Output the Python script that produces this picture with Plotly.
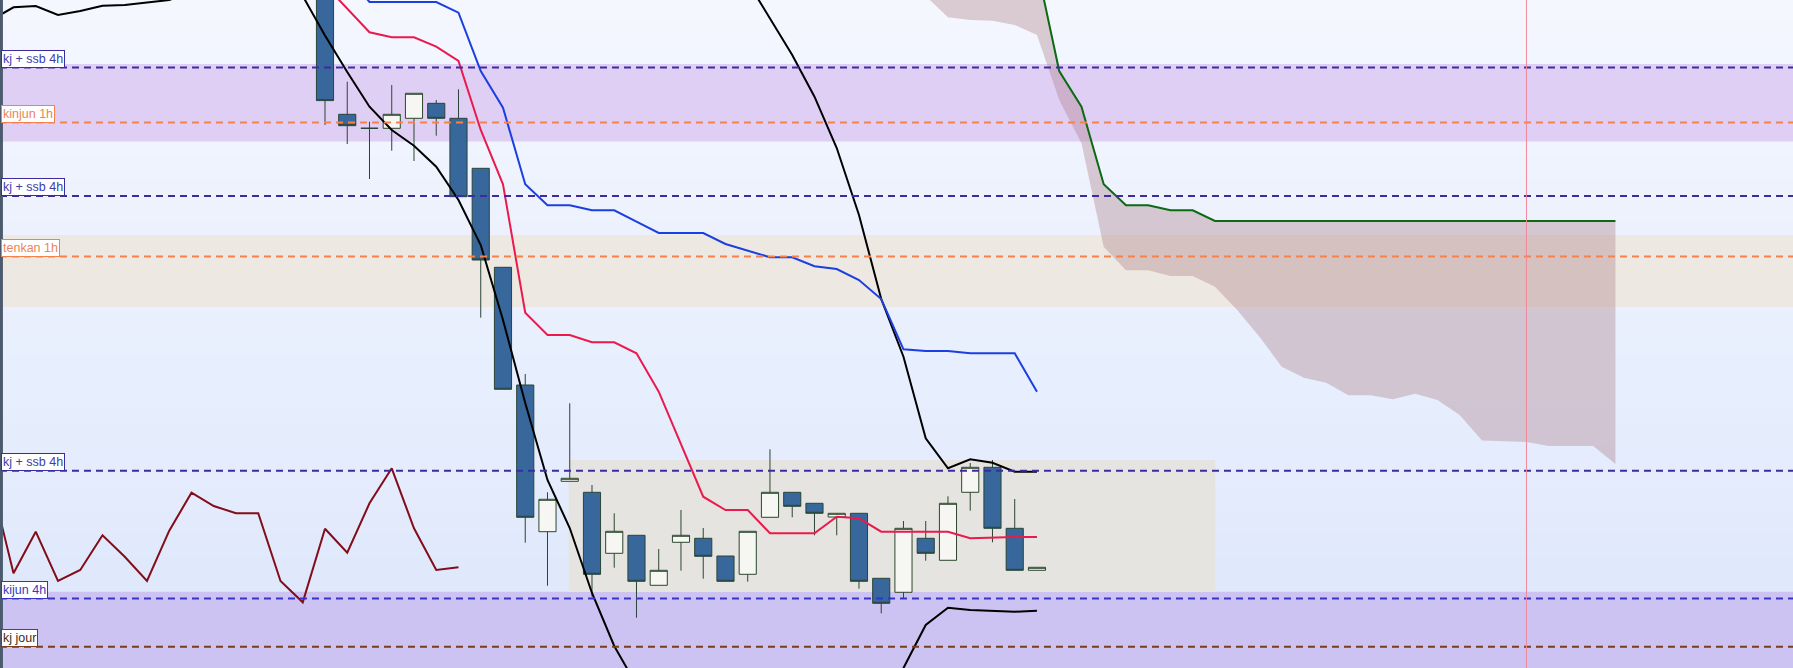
import numpy as np
import plotly.graph_objects as go

# ---------------------------------------------------------------------------
# candles (bar index 0..32), prices in chart units
bars = list(range(0, 33))
opens = [700, 553.7, 539.7, 539.7, 549.7, 564.7, 549.7, 499.7, 400.7, 283,
         136.3, 186.7, 175.7, 114.7, 132.7, 82.7, 125.7, 129.7, 112, 93.7,
         150.7, 175.7, 164.7, 151, 154.7, 89.7, 75.7, 129.7, 107.7, 175.7,
         200.7, 139.7, 97.7]
highs = [712, 586.3, 546.3, 583, 574.7, 568, 578.7, 499.7, 400.7, 294,
         175.7, 264.7, 183, 154.7, 132.7, 119, 158, 140, 112, 136.7,
         218.7, 175.7, 164.7, 154.7, 154.7, 89.7, 147, 147, 171.7, 205,
         208, 169, 100.7]
lows = [543, 524, 489, 517.3, 507, 532.3, 471, 350.3, 278.7, 125.3,
        82.3, 186.7, 71.3, 100.3, 50.3, 82.7, 97.3, 89.3, 86.7, 86.3,
        150.7, 150.7, 132.7, 132.7, 79.3, 54.7, 69.7, 107.3, 107.7, 157.3,
        125.7, 97.7, 97.7]
closes = [567.4, 542.3, 539.7, 553.7, 574.7, 549.7, 471.3, 408, 278.7, 150.7,
          168.7, 189.7, 93.7, 136.7, 86.7, 97.7, 132.7, 111.7, 86.7, 136.7,
          175.7, 161.7, 154.7, 154.7, 86.7, 64.7, 139.7, 114.7, 164.7, 200.7,
          139.7, 97.7, 100.7]

# ichimoku lines
tenkan = [683, 659, 635.7, 630.7, 630.7, 621.3, 607, 538, 483.7, 355.3,
          333, 333, 325.7, 325.7, 314.7, 276.3, 224, 171.3, 158, 158,
          134.7, 134.7, 134.7, 151.3, 149.7, 136.3, 136.3, 136.3, 136.3, 129.7,
          130.7, 131, 131]
kijun_bars = list(range(1, 33))
kijun = [693, 666, 666, 666, 666, 655.3, 597, 560.3, 483.7, 462.7,
         462.7, 457.7, 457.7, 446.3, 435, 435, 435, 424, 417, 410.7,
         410.7, 401.7, 399, 388, 369, 318.7, 317, 317, 314.7, 314.7,
         314.7, 276.3]
chikou_bars = list(range(-15, 7))
chikou = [186, 94.7, 136.3, 87, 98, 132.7, 111.3, 87, 137.3, 175.3,
          162, 154.7, 154.7, 87, 65.7, 139.3, 115.3, 164.7, 199.7, 139.7,
          98, 100.7]
cloud_bars = list(range(26, 59))
span_a = [968, 938, 908, 868, 828, 778, 701, 597, 561.3, 483.7,
          462.7, 462.7, 457.7, 457.7, 447] + [447] * 18
span_b = [708, 672, 650.7, 648, 647.3, 643, 633, 568, 524.7, 421.3,
          397.7, 397.7, 392, 392, 381.3, 358, 331.3, 301.3, 290.3, 285.3,
          272.7, 272.7, 268.7, 274.3, 268, 253, 227.5, 227, 226, 222,
          222, 222, 204]

# bollinger-like envelope (None = outside the visible window, unknown)
band_bars = list(range(-15, 33))
band_up = ([648, 660.7, 662, 653, 657, 662.3, 663, 665.3, 668, 676]
           + [None] * 24
           + [686, 649.2, 613, 571.3, 520, 453, 369, 311.3, 229.7, 199.7,
              208.7, 205.3, 196.3, 196.3])
band_low = ([None] * 14
            + [672, 632.5, 596, 561.3, 538, 522.3, 501.3, 468, 423, 348,
               265, 188, 140, 75, 22, -17]
            + [None] * 10
            + [-52, 0, 43, 60.3, 58, 57.3, 56.3, 57.3])

# horizontal levels and zones
level_names = ["kj + ssb 4h", "kinjun 1h", "kj + ssb 4h", "tenkan 1h",
               "kj + ssb 4h", "kijun 4h", "kj jour"]
level_values = [600.5, 545.5, 472, 411.5, 197.2, 69.5, 21.2]
zone_low = [526.5, 361, 0]
zone_high = [604, 433, 76.3]
range_box = [10.95, 40.02, 76.3, 208]   # bar from, bar to, low, high
now_bar = 54

# ---------------------------------------------------------------------------
level_colors = ["#3c2ca0", "#f4824a", "#3c2ca0", "#f4824a",
                "#3c2ca0", "#3434cc", "#7a3e16"]
label_text = ["#3c3cab", "#ee8456", "#3c3cab", "#ee8456",
              "#3c3cab", "#3838c0", "#4a2a12"]
zone_colors = ["#e0cff5", "#ede8e1", "#cdc3f2"]

fig = go.Figure()

fig.add_trace(go.Scatter(x=cloud_bars, y=span_b, mode="lines",
                         line=dict(width=0), hoverinfo="skip", showlegend=False))
fig.add_trace(go.Scatter(x=cloud_bars, y=span_a, mode="lines",
                         line=dict(color="#0b6a12", width=2),
                         fill="tonexty", fillcolor="rgba(170,120,130,0.35)",
                         hoverinfo="skip", showlegend=False))

fig.add_trace(go.Scatter(x=chikou_bars, y=chikou, mode="lines",
                         line=dict(color="#820c18", width=2), showlegend=False))
fig.add_trace(go.Scatter(x=band_bars, y=band_up, mode="lines",
                         line=dict(color="#000000", width=2), showlegend=False))
fig.add_trace(go.Scatter(x=band_bars, y=band_low, mode="lines",
                         line=dict(color="#000000", width=2), showlegend=False))

fig.add_trace(go.Candlestick(
    x=bars, open=opens, high=highs, low=lows, close=closes,
    increasing=dict(fillcolor="#f6f6f2", line=dict(color="#2c472c", width=1)),
    decreasing=dict(fillcolor="#37679b", line=dict(color="#2a4538", width=1)),
    whiskerwidth=0, showlegend=False))

fig.add_trace(go.Scatter(x=kijun_bars, y=kijun, mode="lines",
                         line=dict(color="#1b3fe0", width=2), showlegend=False))
fig.add_trace(go.Scatter(x=bars, y=tenkan, mode="lines",
                         line=dict(color="#ea1a4c", width=2), showlegend=False))

# background gradient
shapes = []
n = 30
top = np.array([244, 247, 254])
bot = np.array([221, 231, 252])
for i in range(n):
    c = bot + (top - bot) * (i + 0.5) / n
    shapes.append(dict(type="rect", xref="paper", yref="paper",
                       x0=0, x1=1, y0=i / n, y1=(i + 1) / n + 0.002,
                       fillcolor="rgb(%d,%d,%d)" % tuple(c.round()),
                       line=dict(width=0), layer="below"))

for lo, hi, col in zip(zone_low, zone_high, zone_colors):
    shapes.append(dict(type="rect", xref="paper", yref="y", x0=0, x1=1,
                       y0=lo, y1=hi, fillcolor=col, line=dict(width=0),
                       layer="below"))

shapes.append(dict(type="rect", xref="x", yref="y",
                   x0=range_box[0], x1=range_box[1],
                   y0=range_box[2], y1=range_box[3],
                   fillcolor="#e6e4e1", line=dict(width=0), layer="below"))

for v, col in zip(level_values, level_colors):
    shapes.append(dict(type="line", xref="paper", yref="y", x0=0, x1=1,
                       y0=v, y1=v, line=dict(color=col, width=2, dash="7px,5px"),
                       layer="above"))

shapes.append(dict(type="line", xref="x", yref="paper", x0=now_bar, x1=now_bar,
                   y0=0, y1=1, line=dict(color="#f0889a", width=1), layer="above"))
shapes.append(dict(type="line", xref="paper", yref="paper", x0=0.0008, x1=0.0008,
                   y0=0, y1=1, line=dict(color="#4c5a6e", width=3), layer="above"))

annotations = []
for name, v, col, tc in zip(level_names, level_values, level_colors, label_text):
    annotations.append(dict(x=0, xref="paper", y=v, yref="y",
                            xanchor="left", yanchor="bottom", xshift=1,
                            text=name, showarrow=False,
                            font=dict(family="Liberation Sans, Arial", size=12.5, color=tc),
                            bgcolor="#ffffff", bordercolor=col, borderwidth=1,
                            borderpad=1))

fig.update_layout(
    width=1793, height=668,
    margin=dict(l=0, r=0, t=0, b=0),
    plot_bgcolor="#eef2fc", paper_bgcolor="#eef2fc",
    shapes=shapes, annotations=annotations,
    showlegend=False, boxgap=0.23, boxgroupgap=0, hovermode=False,
    xaxis=dict(range=[-14.607, 65.98], visible=False, rangeslider=dict(visible=False),
               fixedrange=True),
    yaxis=dict(range=[0, 668], visible=False, fixedrange=True),
)

fig.write_html("out.html", config={"displayModeBar": False},
               post_script="document.body.style.margin='0';")
